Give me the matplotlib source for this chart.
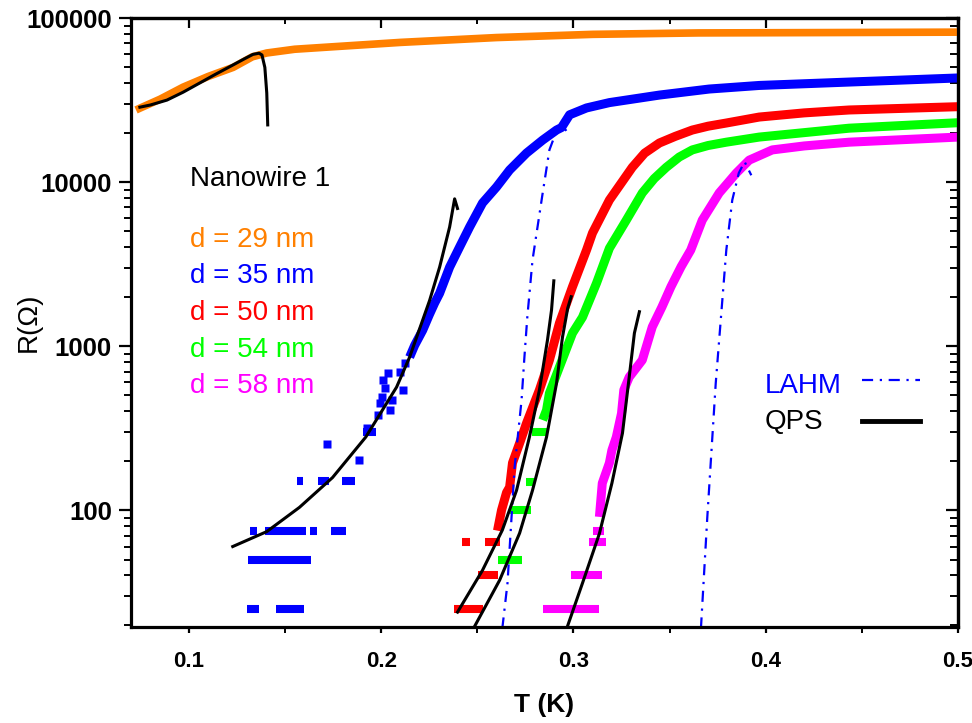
import matplotlib
matplotlib.use('Agg')
import matplotlib.pyplot as plt
from matplotlib.lines import Line2D
from matplotlib.ticker import LogLocator, NullFormatter, MultipleLocator

plt.rcParams['font.family'] = ['Liberation Sans', 'DejaVu Sans']

# ------------------------------------------
# measured R(T), read off the figure
# ------------------------------------------
# d = 29 nm (orange)
t29 = [0.0725, 0.0745, 0.085, 0.097, 0.110, 0.123, 0.133, 0.1405, 0.155, 0.1733,
       0.21, 0.26, 0.31, 0.365, 0.43, 0.5]
r29 = [27500, 28200, 32000, 37900, 44000, 50000, 58000, 61200, 64500, 66600,
       71000, 76000, 79500, 81100, 81500, 82000]

# d = 35 nm (blue)
t35 = [0.2148, 0.2174, 0.2216, 0.2250, 0.2278, 0.2304, 0.2356, 0.2408, 0.2460, 0.2527,
       0.2600, 0.2668, 0.2756, 0.2840, 0.2912, 0.2938, 0.2980, 0.3068, 0.3187, 0.3447,
       0.3706, 0.3966, 0.4434, 0.5]
r35 = [857, 1010, 1250, 1550, 1830, 2100, 3030, 4020, 5320, 7450,
       9330, 11840, 15020, 18030, 20750, 21500, 25700, 28300, 30500, 33900,
       36900, 38800, 40700, 43100]
t35_pts = [0.2122, 0.2096, 0.2034, 0.2008, 0.2018, 0.2112, 0.2003, 0.2055, 0.1992, 0.2044,
           0.1982, 0.1925, 0.1720, 0.1885]
r35_pts = [787, 693, 685, 621, 555, 540, 489, 467, 447, 407,
           379, 316, 252, 202]
t35_bar0 = [0.1905, 0.1560, 0.1670, 0.1798, 0.1320, 0.1398, 0.1632, 0.1741, 0.1305, 0.1300, 0.1452]
t35_bar1 = [0.1975, 0.1594, 0.1727, 0.1864, 0.1355, 0.1611, 0.1667, 0.1819, 0.1634, 0.1365, 0.1597]
r35_bar = [299, 150, 150, 150, 75, 75, 75, 75, 50, 25, 25]

# d = 50 nm (red)
t50 = [0.2605, 0.2626, 0.2652, 0.2668, 0.2683, 0.2720, 0.2756, 0.2823, 0.2875, 0.2927,
       0.2995, 0.3068, 0.3099, 0.3187, 0.3306, 0.3370, 0.3447, 0.3530, 0.3618, 0.3700,
       0.3795, 0.3966, 0.4200, 0.4434, 0.5]
r50 = [75, 100, 128, 138, 194, 256, 339, 540, 822, 1380,
       2300, 3850, 4890, 7770, 12300, 15000, 17300, 19000, 20750, 21900,
       22900, 24900, 26400, 27500, 28800]
t50_bar0 = [0.2422, 0.2538, 0.2501, 0.2377]
t50_bar1 = [0.2460, 0.2616, 0.2605, 0.2527]
r50_bar = [64, 64, 40, 25]

# d = 54 nm (green)
t54 = [0.2840, 0.2860, 0.2875, 0.2927, 0.2995, 0.3047, 0.3120, 0.3187, 0.3275, 0.3358,
       0.3420, 0.3483, 0.3550, 0.3618, 0.3700, 0.3795, 0.3966, 0.4434, 0.5]
r54 = [354, 407, 516, 745, 1200, 1500, 2420, 3950, 5860, 8580,
       10500, 12300, 14200, 15700, 16700, 17500, 18800, 21300, 23000]
t54_bar0 = [0.2782, 0.2753, 0.2668, 0.2605]
t54_bar1 = [0.2865, 0.2797, 0.2780, 0.2735]
r54_bar = [299, 148, 100, 50]

# d = 58 nm (magenta)
t58 = [0.3135, 0.3150, 0.3187, 0.3200, 0.3223, 0.3250, 0.3262, 0.3290, 0.3358, 0.3410,
       0.3460, 0.3507, 0.3560, 0.3610, 0.3670, 0.3758, 0.3847, 0.3914, 0.4034, 0.4200,
       0.4434, 0.5]
r58 = [91, 146, 194, 232, 279, 389, 540, 647, 822, 1310,
       1730, 2300, 3050, 3850, 5860, 8580, 11350, 13600, 15700, 16600,
       17500, 18800]
t58_bar0 = [0.3100, 0.3083, 0.2988, 0.2844]
t58_bar1 = [0.3160, 0.3170, 0.3149, 0.3135]
r58_bar = [75, 64, 40, 25]

# ------------------------------------------
# model curves
# ------------------------------------------
qps29_t = [0.0745, 0.0800, 0.0886, 0.0970, 0.1057, 0.1140, 0.1229, 0.1290, 0.1333, 0.1365,
           0.1380, 0.1395, 0.1405, 0.1410]
qps29_r = [28600, 29500, 31600, 35300, 40200, 45500, 51700, 56500, 60000, 61000,
           59500, 50000, 34900, 22300]
qps35_t = [0.1228, 0.1405, 0.1575, 0.1747, 0.1920, 0.2080, 0.2148, 0.2252, 0.2304, 0.2356, 0.2382, 0.2397]
qps35_r = [60, 74, 104, 158, 279, 562, 857, 1900, 3030, 5320, 7900, 6900]
qps50_t = [0.2397, 0.2527, 0.2630, 0.2704, 0.2771, 0.2823, 0.2865, 0.2886, 0.2898]
qps50_r = [23.9, 43, 75.5, 132, 279, 540, 1090, 1660, 2500]
qps54_t = [0.2480, 0.2616, 0.2720, 0.2787, 0.2860, 0.2912, 0.2943, 0.2970, 0.2988]
qps54_r = [19.0, 37.4, 72.4, 132, 279, 594, 1135, 1700, 2000]
qps58_t = [0.2965, 0.3047, 0.3135, 0.3200, 0.3255, 0.3290, 0.3317, 0.3343]
qps58_r = [19.0, 35.9, 72, 146, 295, 647, 1200, 1620]

lahm35_t = [0.2630, 0.2657, 0.2694, 0.2730, 0.2745, 0.2760, 0.2787, 0.2840, 0.2875, 0.2900, 0.2938, 0.2970]
lahm35_r = [19.0, 35.9, 183, 467, 857, 1500, 3340, 8580, 15700, 18800, 22500, 20000]
lahm58_t = [0.3663, 0.3696, 0.3740, 0.3795, 0.3826, 0.3860, 0.3890, 0.3925]
lahm58_r = [19.0, 90, 594, 3850, 7770, 11350, 13300, 11000]

labels = ['d = 29 nm', 'd = 35 nm', 'd = 50 nm', 'd = 54 nm', 'd = 58 nm']
colors = ['#FF8000', '#0000FF', '#FF0000', '#00FF00', '#FF00FF']

# ------------------------------------------
# plot
# ------------------------------------------
fig = plt.figure(figsize=(9.72, 7.23), dpi=100)
ax = fig.add_axes([0.1344, 0.1328, 0.8512, 0.8423])
ax.set_yscale('log')

band_lw = 6.5
bar_lw = 5.8
ms = 6.3

ax.plot(t29, r29, '-', color=colors[0], lw=5.5, solid_capstyle='butt', solid_joinstyle='round')
ax.plot(t35, r35, '-', color=colors[1], lw=band_lw, solid_capstyle='butt', solid_joinstyle='round')
ax.plot(t35_pts, r35_pts, 's', color=colors[1], ms=ms, mec='none')
ax.hlines(r35_bar, t35_bar0, t35_bar1, color=colors[1], lw=bar_lw)
ax.plot(t50, r50, '-', color=colors[2], lw=band_lw, solid_capstyle='butt', solid_joinstyle='round')
ax.hlines(r50_bar, t50_bar0, t50_bar1, color=colors[2], lw=bar_lw)
ax.plot(t54, r54, '-', color=colors[3], lw=band_lw, solid_capstyle='butt', solid_joinstyle='round')
ax.hlines(r54_bar, t54_bar0, t54_bar1, color=colors[3], lw=bar_lw)
ax.plot(t58, r58, '-', color=colors[4], lw=band_lw, solid_capstyle='butt', solid_joinstyle='round')
ax.hlines(r58_bar, t58_bar0, t58_bar1, color=colors[4], lw=bar_lw)

lahm_style = dict(color='#0000FF', lw=1.6, linestyle=(0, (5, 3, 1, 3)))
ax.plot(lahm35_t, lahm35_r, **lahm_style)
ax.plot(lahm58_t, lahm58_r, **lahm_style)

for t, r in [(qps29_t, qps29_r), (qps35_t, qps35_r), (qps50_t, qps50_r),
             (qps54_t, qps54_r), (qps58_t, qps58_r)]:
    ax.plot(t, r, '-', color='black', lw=2.2)

ax.set_xlim(0.0697, 0.5)
ax.set_ylim(19.4, 1e5)

# text legend for the wires
ax.text(0.0718, 0.724, 'Nanowire 1', transform=ax.transAxes, fontsize=20, color='black')
ys = [0.624, 0.565, 0.504, 0.443, 0.384]
for lab, c, y in zip(labels, colors, ys):
    ax.text(0.0718, y, lab, transform=ax.transAxes, fontsize=20, color=c)

# model legend: labels as text, line samples from a legend
ax.text(0.7667, 0.384, 'LAHM', transform=ax.transAxes, fontsize=20, color='#0000FF')
ax.text(0.7667, 0.325, 'QPS', transform=ax.transAxes, fontsize=20, color='black')
handles = [Line2D([], [], **lahm_style), Line2D([], [], color='black', lw=3.5)]
ax.legend(handles, ['', ''], loc='center left', bbox_to_anchor=(0.884, 0.368),
          frameon=False, fontsize=20, handlelength=2.1, handletextpad=0,
          labelspacing=0.55, borderpad=0, borderaxespad=0)

# axes styling
for sp in ax.spines.values():
    sp.set_linewidth(2.3)

ax.set_yticks([100, 1000, 10000, 100000])
ax.set_yticklabels(['100', '1000', '10000', '100000'])
ax.yaxis.set_minor_locator(LogLocator(base=10, subs=range(2, 10)))
ax.yaxis.set_minor_formatter(NullFormatter())
ax.xaxis.set_major_locator(MultipleLocator(0.1))
ax.xaxis.set_minor_locator(MultipleLocator(0.05))

ax.tick_params(axis='y', which='major', direction='out', length=8.5, width=1.6, pad=5,
               labelsize=18.5, right=False)
ax.tick_params(axis='y', which='minor', direction='out', length=5, width=1.4, right=False)
ax.tick_params(axis='x', which='major', direction='out', length=4.5, width=1.6, pad=13,
               labelsize=16, top=False)
ax.tick_params(axis='x', which='minor', direction='out', length=4, width=1.4, top=False)
for lab in ax.get_xticklabels() + ax.get_yticklabels():
    lab.set_fontweight('bold')

top = ax.secondary_xaxis('top')
top.xaxis.set_major_locator(MultipleLocator(0.1))
top.xaxis.set_minor_locator(MultipleLocator(0.05))
top.tick_params(which='major', direction='in', length=7, width=1.6, labeltop=False)
top.tick_params(which='minor', direction='in', length=4.5, width=1.4)
top.spines['top'].set_linewidth(2.3)

right = ax.secondary_yaxis('right')
right.set_yticks([100, 1000, 10000, 100000])
right.yaxis.set_minor_locator(LogLocator(base=10, subs=range(2, 10)))
right.yaxis.set_minor_formatter(NullFormatter())
right.tick_params(which='major', direction='in', length=8.5, width=1.6, labelright=False)
right.tick_params(which='minor', direction='in', length=5.5, width=1.4)
right.spines['right'].set_linewidth(2.3)

ax.set_xlabel('T (K)', fontsize=19, fontweight='bold', labelpad=15)
ax.set_ylabel('R(\u03a9)', fontsize=20)
ax.yaxis.set_label_coords(-0.108, 0.5)

fig.savefig('out.png', dpi=100)
